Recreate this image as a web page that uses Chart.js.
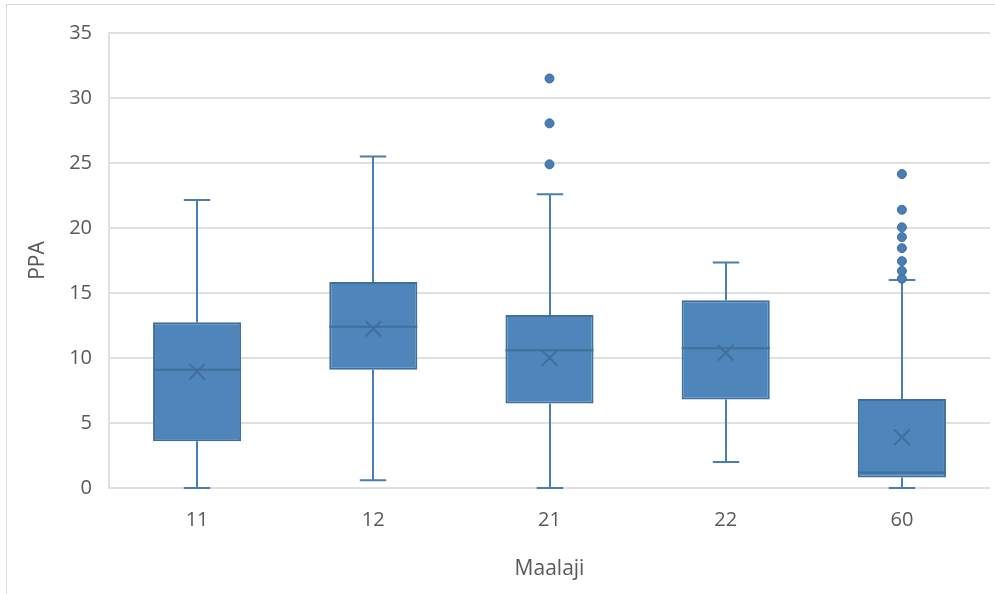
<!DOCTYPE html>
<html>
<head>
<meta charset="utf-8">
<script src="https://cdn.jsdelivr.net/npm/chart.js@4/dist/chart.umd.min.js"></script>
<style>
  body { margin: 0; background: #fff; }
  #wrap { width: 995px; height: 594px; }
</style>
</head>
<body>
<div id="wrap"><canvas id="boxChart" width="995" height="594"></canvas></div>
<script>
// Maalaji categories and box plot statistics (PPA)
const categories = ['11', '12', '21', '22', '60'];
const mins     = [0,     0.6,   0,    2.0,   0];
const q1s      = [3.6,   9.1,   6.5,  6.8,   0.8];
const medians  = [9.1,   12.4,  10.6, 10.75, 1.2];
const q3s      = [12.75, 15.85, 13.3, 14.45, 6.85];
const maxs     = [22.15, 25.5,  22.6, 17.35, 16.0];
const means    = [8.95,  12.25, 10.0, 10.4,  3.9];
const outliers = [
    [],
    [],
    [24.9, 28.05, 31.5],
    [],
    [16.1, 16.7, 17.45, 18.45, 19.3, 20.05, 21.4, 24.15]
];
const yTicks = { min: 0, max: 35, step: 5 };

const boxFill = '#4e86bc';
const boxEdge = '#3f6f9a';
const whiskerColor = '#4a7eb2';
const textColor = '#595959';
const gridColor = '#e0e0e0';

// Frame around the whole chart
const framePlugin = {
    id: 'frame',
    beforeDraw(chart) {
        const ctx = chart.ctx;
        ctx.save();
        ctx.fillStyle = '#fff';
        ctx.fillRect(0, 0, chart.width, chart.height);
        ctx.strokeStyle = '#d9d9d9';
        ctx.lineWidth = 1;
        ctx.strokeRect(6.5, 4.5, 1000, 1000);
        ctx.restore();
    }
};

// Whiskers behind the boxes, medians on top of them
const boxPlotPlugin = {
    id: 'boxPlot',
    beforeDatasetsDraw(chart) {
        const ctx = chart.ctx;
        const y = chart.scales.y;
        const bars = chart.getDatasetMeta(0).data;
        ctx.save();
        ctx.strokeStyle = whiskerColor;
        ctx.lineWidth = 2;
        bars.forEach((bar, i) => {
            const x = Math.round(bar.x);
            const half = bar.width * 0.15;
            const yMin = y.getPixelForValue(mins[i]);
            const yMax = y.getPixelForValue(maxs[i]);
            ctx.beginPath();
            ctx.moveTo(x, yMax);
            ctx.lineTo(x, y.getPixelForValue(q3s[i]));
            ctx.moveTo(x, y.getPixelForValue(q1s[i]));
            ctx.lineTo(x, yMin);
            ctx.moveTo(x - half, yMax);
            ctx.lineTo(x + half, yMax);
            ctx.moveTo(x - half, yMin);
            ctx.lineTo(x + half, yMin);
            ctx.stroke();
        });
        ctx.restore();
    },
    afterDatasetDraw(chart, args) {
        if (args.index !== 0) return;
        const ctx = chart.ctx;
        const y = chart.scales.y;
        ctx.save();
        ctx.strokeStyle = boxEdge;
        ctx.lineWidth = 2;
        args.meta.data.forEach((bar, i) => {
            const ym = y.getPixelForValue(medians[i]);
            ctx.beginPath();
            ctx.moveTo(bar.x - bar.width / 2, ym);
            ctx.lineTo(bar.x + bar.width / 2, ym);
            ctx.stroke();
        });
        ctx.restore();
    }
};

const outlierPoints = [];
outliers.forEach((list, i) => {
    list.forEach(v => outlierPoints.push({ x: categories[i], y: v }));
});

new Chart(document.getElementById('boxChart'), {
    type: 'bar',
    data: {
        labels: categories,
        datasets: [
            {
                label: 'PPA',
                data: categories.map((c, i) => [q1s[i], q3s[i]]),
                backgroundColor: boxFill,
                borderColor: boxEdge,
                borderWidth: 2,
                borderSkipped: false,
                barPercentage: 0.5,
                categoryPercentage: 1.0,
                order: 3
            },
            {
                type: 'scatter',
                label: 'Keskiarvo',
                data: categories.map((c, i) => ({ x: c, y: means[i] })),
                pointStyle: 'crossRot',
                pointRadius: 11,
                borderColor: boxEdge,
                borderWidth: 2,
                order: 1
            },
            {
                type: 'scatter',
                label: 'Poikkeavat',
                data: outlierPoints,
                pointStyle: 'circle',
                pointRadius: 4.5,
                backgroundColor: '#4a7db5',
                borderColor: boxEdge,
                borderWidth: 1,
                order: 2
            }
        ]
    },
    options: {
        responsive: false,
        animation: false,
        layout: {
            autoPadding: false,
            padding: { left: 10, right: 5, top: 33, bottom: 0 }
        },
        plugins: {
            legend: { display: false },
            tooltip: { enabled: false }
        },
        scales: {
            x: {
                type: 'category',
                offset: true,
                grid: { display: false, drawTicks: false },
                border: { display: false },
                ticks: {
                    color: textColor,
                    font: { family: 'Open Sans', size: 20 },
                    padding: 20
                },
                title: {
                    display: true,
                    text: 'Maalaji',
                    color: textColor,
                    font: { family: 'Open Sans', size: 21 },
                    padding: { top: 0, bottom: 12 }
                },
                afterFit(scale) {
                    scale.height = 106;
                    scale.paddingLeft = 0;
                    scale.paddingRight = 0;
                }
            },
            y: {
                min: yTicks.min,
                max: yTicks.max,
                grid: { color: gridColor, lineWidth: 2, drawTicks: false },
                border: { display: true, color: gridColor, width: 2 },
                ticks: {
                    stepSize: yTicks.step,
                    color: textColor,
                    font: { family: 'Open Sans', size: 20 },
                    padding: 17
                },
                title: {
                    display: true,
                    text: 'PPA',
                    color: textColor,
                    font: { family: 'Open Sans', size: 21 },
                    padding: { top: 15, bottom: 0 }
                },
                afterFit(scale) { scale.width = 99; }
            }
        }
    },
    plugins: [framePlugin, boxPlotPlugin]
});
</script>
</body>
</html>
